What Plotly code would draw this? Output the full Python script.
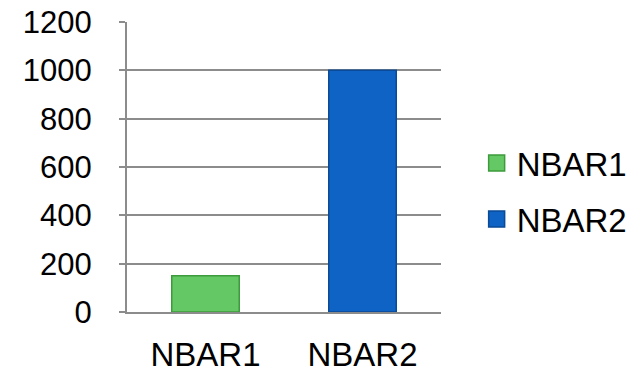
import plotly.graph_objects as go

categories = ["NBAR1", "NBAR2"]
values = [150, 1000]
colors = ["#64c864", "#0f63c4"]
line_colors = ["#3d9a3d", "#0a4a96"]
y_ticks = [0, 200, 400, 600, 800, 1000, 1200]

fig = go.Figure()
for i, (cat, val) in enumerate(zip(categories, values)):
    fig.add_trace(go.Bar(
        x=[cat], y=[val], name=cat, width=0.43, showlegend=False,
        marker=dict(color=colors[i], line=dict(color=line_colors[i], width=1.5)),
    ))
for i, cat in enumerate(categories):
    fig.add_trace(go.Scatter(
        x=[None], y=[None], mode="markers", name=cat, legendgroup=cat,
        marker=dict(symbol="square", size=16, color=colors[i],
                    line=dict(color=line_colors[i], width=1.5)),
    ))

FONT = "Liberation Sans, Arial, sans-serif"
fig.update_layout(
    width=644, height=372,
    margin=dict(l=127, r=202, t=22, b=60),
    paper_bgcolor="white", plot_bgcolor="white",
    barmode="overlay",
    font=dict(family=FONT, size=33, color="black"),
    showlegend=True,
    legend=dict(x=1.11, xanchor="left", y=0.417, yanchor="middle", itemsizing="trace",
                font=dict(size=33), tracegroupgap=10, bgcolor="rgba(0,0,0,0)"),
    xaxis=dict(showline=True, linecolor="#8c8c8c", linewidth=2, ticks="",
               showgrid=False, ticklabelstandoff=12, tickfont=dict(size=33),
               automargin=False),
    yaxis=dict(range=[0, 1200], tickvals=y_ticks, showgrid=True, gridcolor="#8c8c8c",
               gridwidth=2, showline=True, linecolor="#8c8c8c", linewidth=2,
               ticks="outside", ticklen=6, tickcolor="#8c8c8c", tickwidth=2,
               ticklabelstandoff=21, tickfont=dict(size=31), zeroline=False,
               automargin=False),
)
fig.write_html("out.html")
